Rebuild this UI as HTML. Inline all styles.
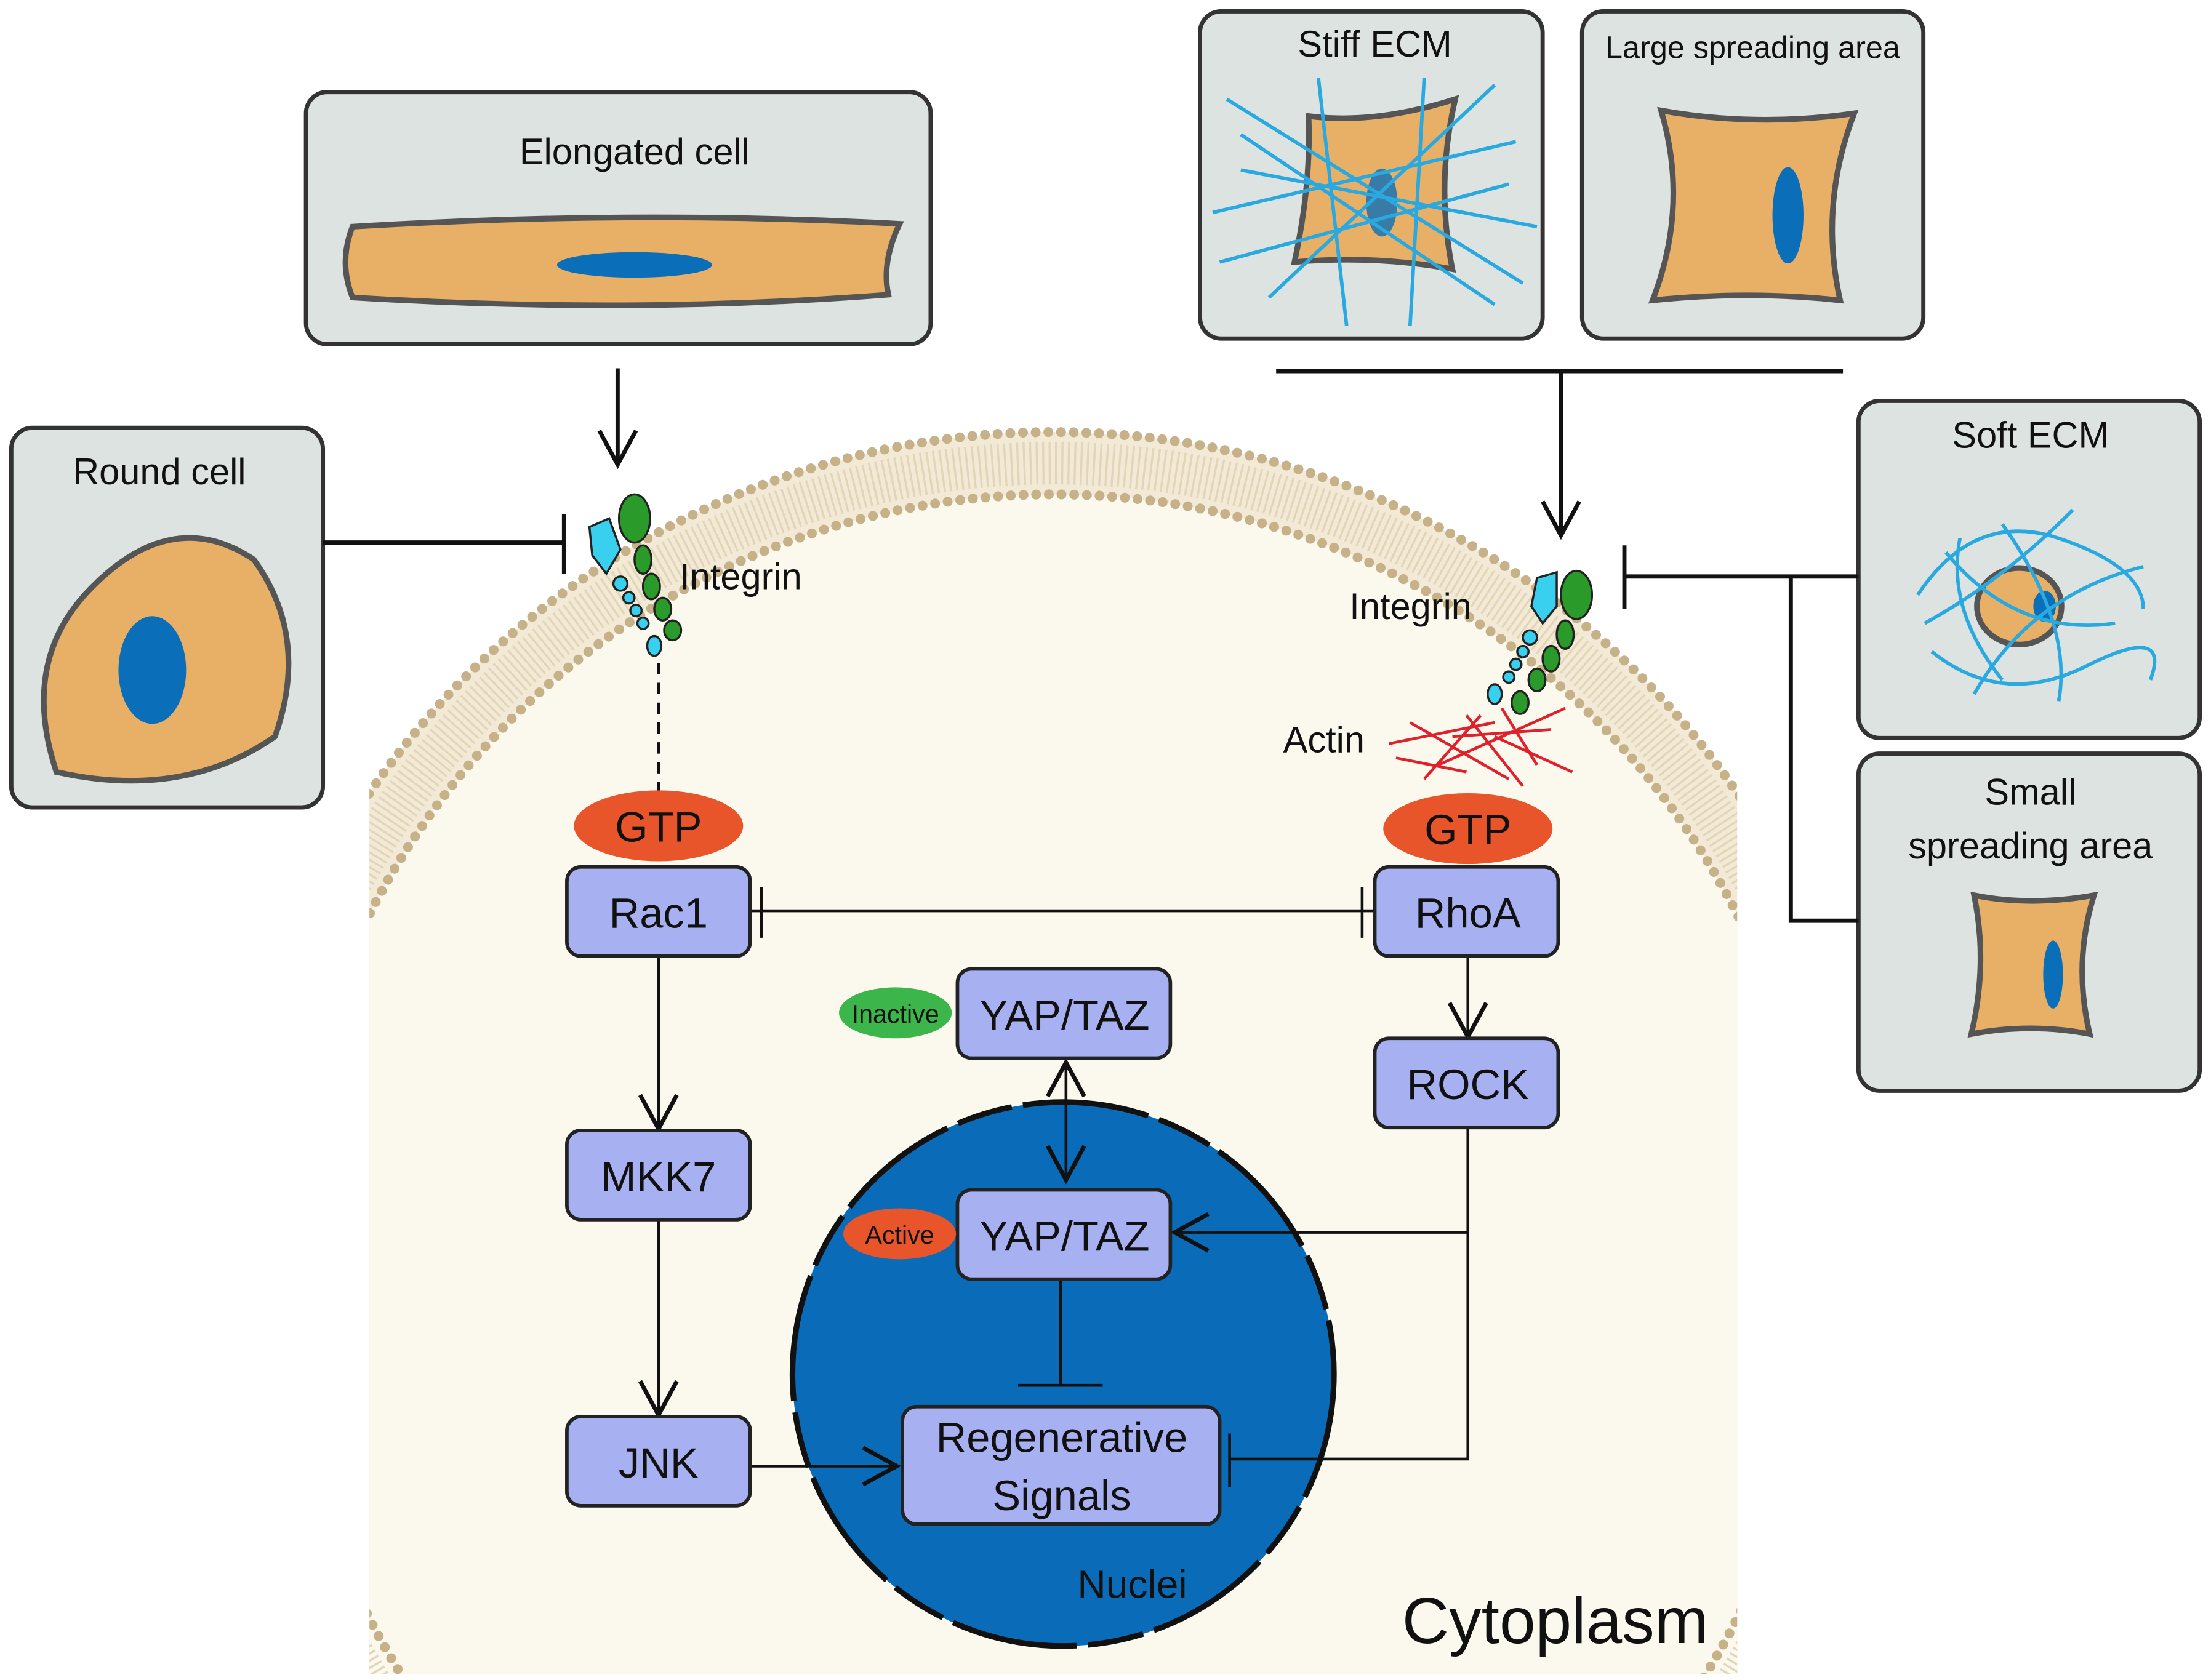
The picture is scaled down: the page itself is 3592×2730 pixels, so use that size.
<!DOCTYPE html>
<html><head><meta charset="utf-8"><style>
html,body{margin:0;padding:0;background:#fff;width:3592px;height:2730px;overflow:hidden}
svg{display:block}
text{font-family:"Liberation Sans",sans-serif;fill:#111}
</style></head><body>
<svg width="3592" height="2730" viewBox="0 0 1568 1186" preserveAspectRatio="none" xmlns="http://www.w3.org/2000/svg">
<defs>
<clipPath id="cp"><rect x="262" y="250" width="970" height="932"/></clipPath>
<marker id="ab" viewBox="0 0 30 30" refX="27" refY="15" markerWidth="30" markerHeight="30" markerUnits="userSpaceOnUse" orient="auto"><path d="M3,2 L27,15 L3,28" fill="none" stroke="#111" stroke-width="3"/></marker>
<marker id="ab2" viewBox="0 0 30 30" refX="27" refY="15" markerWidth="30" markerHeight="30" markerUnits="userSpaceOnUse" orient="auto-start-reverse"><path d="M3,2 L27,15 L3,28" fill="none" stroke="#111" stroke-width="3"/></marker>
</defs>
<rect width="1568" height="1186" fill="#fff"/>
<g clip-path="url(#cp)">
<circle cx="747" cy="894" r="589" fill="#f2ead6"/>
<circle cx="747" cy="894" r="545" fill="#fbf8ee"/>
<rect x="262" y="1000" width="970" height="182" fill="#fbf8ee"/>
<circle cx="747" cy="894" r="589" fill="none" stroke="#c7b189" stroke-width="7" stroke-dasharray="0 9" stroke-linecap="round"/>
<circle cx="747" cy="894" r="545" fill="none" stroke="#c7b189" stroke-width="7" stroke-dasharray="0 9" stroke-linecap="round"/>
<circle cx="747" cy="894" r="567" fill="none" stroke="#e3d6b8" stroke-width="30" stroke-dasharray="1.5 3"/>
</g>
<g fill="#dde3e0" stroke="#333" stroke-width="3">
<rect x="217" y="65" width="443" height="178" rx="15"/>
<rect x="8" y="302" width="221" height="268" rx="15"/>
<rect x="851" y="8" width="243" height="231" rx="15"/>
<rect x="1122" y="8" width="242" height="231" rx="15"/>
<rect x="1318" y="283" width="242" height="238" rx="15"/>
<rect x="1318" y="532" width="242" height="238" rx="15"/>
</g>
<g font-size="26" text-anchor="middle">
<text x="450" y="116">Elongated cell</text>
<text x="113" y="342">Round cell</text>
<text x="975" y="40">Stiff ECM</text>
<text x="1243" y="41" font-size="22">Large spreading area</text>
<text x="1440" y="316">Soft ECM</text>
<text x="1440" y="568">Small</text>
<text x="1440" y="606">spreading area</text>
</g>
<g stroke="#555" stroke-width="4" fill="#e8b066">
<path d="M250,160 Q240,185 250,210 Q450,222 630,208 Q625,185 638,158 Q450,148 250,160Z"/>
<path d="M60,420 Q120,355 180,395 Q220,450 195,520 Q130,565 40,545 Q15,470 60,420Z"/>
<path d="M928,82 Q975,88 1032,70 Q1018,130 1030,190 Q975,180 918,185 Q930,130 928,82Z"/>
<path d="M1178,78 Q1245,90 1315,80 Q1290,145 1305,212 Q1240,205 1172,212 Q1198,145 1178,78Z"/>
<path d="M1400,632 Q1440,640 1485,632 Q1470,680 1482,730 Q1440,722 1398,730 Q1410,680 1400,632Z"/>
<ellipse cx="1432" cy="428" rx="30" ry="27"/>
</g>
<g fill="#0b6eb8">
<ellipse cx="450" cy="187" rx="55" ry="9"/>
<ellipse cx="108" cy="473" rx="24" ry="38"/>
<ellipse cx="980" cy="143" rx="11" ry="24" opacity="0.8"/>
<ellipse cx="1268" cy="152" rx="11" ry="34"/>
<ellipse cx="1456" cy="688" rx="7" ry="24"/>
<ellipse cx="1450" cy="428" rx="8" ry="11"/>
</g>
<g stroke="#2aa9e0" stroke-width="2.5" fill="none">
<path d="M870,70 L1080,200 M860,150 L1075,100 M900,210 L1060,60 M880,120 L1090,160 M935,55 L955,230 M1010,55 L1000,230 M865,185 L1070,130 M880,95 L1060,215"/>
<path d="M1360,420 Q1400,360 1460,380 T1520,430 M1370,460 Q1420,500 1480,470 T1525,480 M1380,390 Q1430,450 1500,440 M1400,490 Q1440,420 1520,400 M1365,440 Q1420,410 1470,360 M1420,370 Q1470,440 1460,495 M1390,380 Q1380,430 1420,480"/>
</g>
<!-- nucleus -->
<circle cx="754" cy="970" r="192" fill="#0a6cb8" stroke="#111" stroke-width="4" stroke-dasharray="90 8 40 8"/>
<text x="803" y="1128" font-size="28" text-anchor="middle">Nuclei</text>
<g stroke="#111" stroke-width="3" fill="none">
<line x1="438" y1="260" x2="438" y2="328" marker-end="url(#ab)"/>
<line x1="229" y1="383" x2="400" y2="383"/><line x1="400" y1="363" x2="400" y2="405"/>
<line x1="905" y1="262" x2="1307" y2="262"/>
<line x1="1107" y1="262" x2="1107" y2="378" marker-end="url(#ab)"/>
<line x1="1318" y1="407" x2="1152" y2="407"/><line x1="1152" y1="385" x2="1152" y2="430"/>
<polyline points="1270,407 1270,650 1318,650"/>
</g>
<g stroke="#111" stroke-width="2" fill="none">
<line x1="467" y1="468" x2="467" y2="560" stroke-dasharray="8 6"/>
<line x1="532" y1="643" x2="975" y2="643"/>
<line x1="540" y1="626" x2="540" y2="662"/><line x1="966" y1="626" x2="966" y2="662"/>
<line x1="467" y1="675" x2="467" y2="797" marker-end="url(#ab)"/>
<line x1="467" y1="861" x2="467" y2="999" marker-end="url(#ab)"/>
<line x1="532" y1="1035" x2="636" y2="1035" marker-end="url(#ab)"/>
<line x1="1041" y1="675" x2="1041" y2="732" marker-end="url(#ab)"/>
<polyline points="1041,796 1041,1030 872,1030"/>
<line x1="872" y1="1012" x2="872" y2="1050"/>
<line x1="1041" y1="870" x2="833" y2="870" marker-end="url(#ab)"/>
<line x1="756" y1="750" x2="756" y2="833" marker-end="url(#ab2)" marker-start="url(#ab2)"/>
<line x1="752" y1="903" x2="752" y2="978"/><line x1="722" y1="978" x2="782" y2="978"/>
</g>
<ellipse cx="467" cy="583" rx="60" ry="25" fill="#e8552a"/>
<ellipse cx="1041" cy="585" rx="60" ry="25" fill="#e8552a"/>
<g font-size="30" text-anchor="middle"><text x="467" y="594">GTP</text><text x="1041" y="596">GTP</text></g>
<g fill="#a7b1f2" stroke="#222" stroke-width="2.5">
<rect x="402" y="612" width="130" height="63" rx="10"/>
<rect x="975" y="612" width="130" height="63" rx="10"/>
<rect x="402" y="798" width="130" height="63" rx="10"/>
<rect x="402" y="1000" width="130" height="63" rx="10"/>
<rect x="975" y="733" width="130" height="63" rx="10"/>
<rect x="679" y="684" width="151" height="63" rx="10"/>
<rect x="679" y="840" width="151" height="63" rx="10"/>
<rect x="640" y="993" width="225" height="83" rx="10"/>
</g>
<g font-size="30" text-anchor="middle">
<text x="467" y="655">Rac1</text>
<text x="1041" y="655">RhoA</text>
<text x="467" y="841">MKK7</text>
<text x="467" y="1043">JNK</text>
<text x="1041" y="776">ROCK</text>
<text x="755" y="727">YAP/TAZ</text>
<text x="755" y="883">YAP/TAZ</text>
<text x="753" y="1025">Regenerative</text>
<text x="753" y="1066">Signals</text>
</g>
<ellipse cx="635" cy="715" rx="40" ry="18" fill="#3cb54a"/>
<ellipse cx="638" cy="871" rx="40" ry="18" fill="#e8552a"/>
<text x="635" y="722" font-size="18" text-anchor="middle">Inactive</text>
<text x="638" y="878" font-size="18" text-anchor="middle">Active</text>
<g stroke="#222" stroke-width="1.5">
<ellipse cx="450" cy="366" rx="11" ry="17" fill="#2a9a2a"/>
<g fill="#2a9a2a"><ellipse cx="456" cy="395" rx="6" ry="10"/><ellipse cx="462" cy="414" rx="6" ry="9"/><ellipse cx="470" cy="430" rx="6" ry="8"/><ellipse cx="477" cy="445" rx="6" ry="7"/></g>
<path d="M418,372 L432,366 L440,388 L430,405 L420,392Z" fill="#38d0ee"/>
<g fill="#38d0ee"><circle cx="440" cy="412" r="5"/><circle cx="446" cy="422" r="4"/><circle cx="451" cy="431" r="4"/><circle cx="456" cy="440" r="4"/><ellipse cx="464" cy="456" rx="5" ry="7"/></g>
<ellipse cx="1118" cy="420" rx="11" ry="17" fill="#2a9a2a"/>
<g fill="#2a9a2a"><ellipse cx="1110" cy="448" rx="6" ry="10"/><ellipse cx="1100" cy="465" rx="6" ry="9"/><ellipse cx="1090" cy="480" rx="6" ry="8"/><ellipse cx="1078" cy="496" rx="6" ry="8"/></g>
<path d="M1090,408 L1104,404 L1104,428 L1094,440 L1086,428Z" fill="#38d0ee"/>
<g fill="#38d0ee"><circle cx="1085" cy="450" r="5"/><circle cx="1080" cy="460" r="4"/><circle cx="1075" cy="469" r="4"/><circle cx="1070" cy="478" r="4"/><ellipse cx="1060" cy="490" rx="5" ry="7"/></g>
</g>
<g font-size="26"><text x="482" y="416">Integrin</text><text x="957" y="437">Integrin</text><text x="910" y="531">Actin</text></g>
<g stroke="#e0202a" stroke-width="2">
<path d="M985,525 L1060,510 M1000,510 L1070,550 M1020,540 L1110,500 M1040,505 L1080,555 M1060,520 L1115,545 M1010,550 L1050,505 M1030,520 L1100,515 M1065,500 L1090,540 M990,535 L1040,545"/>
</g>
<text x="1103" y="1160" font-size="46" text-anchor="middle">Cytoplasm</text>
</svg>
</body></html>
